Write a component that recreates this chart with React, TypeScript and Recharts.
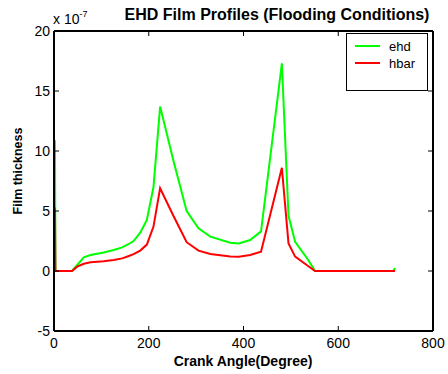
import { LineChart, Line, XAxis, YAxis } from "recharts";

// crank angle (deg) and film thickness (x 1e-7)
const angles = [2, 3, 38, 49, 63, 77, 105, 126, 144, 158, 168, 182, 196, 210, 224, 252, 280, 305, 330, 372, 390, 414, 437, 481, 495, 509, 537, 551, 716, 720];
const ehd = [10.9, 0, 0, 0.5, 1.14, 1.33, 1.55, 1.75, 1.97, 2.25, 2.5, 3.2, 4.25, 7.0, 13.7, 9.2, 5.0, 3.55, 2.86, 2.36, 2.3, 2.58, 3.3, 17.3, 4.6, 2.44, 0.9, 0, 0, 0.25];
const hbar = [5.3, 0, 0, 0.36, 0.6, 0.72, 0.82, 0.92, 1.05, 1.25, 1.4, 1.7, 2.2, 3.7, 6.9, 4.6, 2.4, 1.7, 1.42, 1.2, 1.18, 1.33, 1.6, 8.6, 2.3, 1.2, 0.4, 0, 0, 0];

const xTicks = [0, 200, 400, 600, 800];
const yTicks = [-5, 0, 5, 10, 15, 20];

const series = [
  { key: "ehd", name: "ehd", color: "#00ff00" },
  { key: "hbar", name: "hbar", color: "#ff0000" },
];

const data = angles.map((a, i) => ({ angle: a, ehd: ehd[i], hbar: hbar[i] }));

const W = 448;
const H = 374;
const margin = { top: 31, right: 15, bottom: 13, left: 14 };
const X_AXIS_H = 30;
const Y_AXIS_W = 40;
const PLOT_W = W - margin.left - Y_AXIS_W - margin.right;
const PLOT_H = H - margin.top - margin.bottom - X_AXIS_H;
const TICK = 5;

const font = '"Liberation Sans", Arial, Helvetica, sans-serif';
const frame = { stroke: "#000", strokeWidth: 2 };

// label plus inward ticks on both sides of the box (matlab style)
function XTick(props: any) {
  const { x, y, payload } = props;
  const base = y - 7; // tickSize 4 + tickMargin 3
  return (
    <g>
      <line x1={x} x2={x} y1={base} y2={base - TICK} stroke="#000" />
      <line x1={x} x2={x} y1={base - PLOT_H} y2={base - PLOT_H + TICK} stroke="#000" />
      <text x={x} y={y} dy="0.71em" textAnchor="middle" fontSize={14} fontFamily={font} fill="#000">
        {payload.value}
      </text>
    </g>
  );
}

function YTick(props: any) {
  const { x, y, payload } = props;
  const base = x + 4; // tickSize 2 + tickMargin 2
  return (
    <g>
      <line x1={base} x2={base + TICK} y1={y} y2={y} stroke="#000" />
      <line x1={base + PLOT_W} x2={base + PLOT_W - TICK} y1={y} y2={y} stroke="#000" />
      <text x={x} y={y} dy="0.355em" textAnchor="end" fontSize={14} fontFamily={font} fill="#000">
        {payload.value}
      </text>
    </g>
  );
}

export default function App() {
  return (
    <div style={{ position: "absolute", left: 0, top: 0, width: W, height: H, background: "#fff" }}>
      <LineChart width={W} height={H} data={data} margin={margin}>
        <XAxis
          dataKey="angle"
          type="number"
          domain={[0, 800]}
          ticks={xTicks}
          interval={0}
          tickLine={false}
          tickSize={4}
          tickMargin={3}
          axisLine={frame}
          tick={<XTick />}
          height={X_AXIS_H}
        />
        <YAxis
          type="number"
          domain={[-5, 20]}
          ticks={yTicks}
          interval={0}
          tickLine={false}
          tickSize={2}
          tickMargin={2}
          axisLine={frame}
          tick={<YTick />}
          width={Y_AXIS_W}
        />
        <XAxis xAxisId="top" orientation="top" mirror type="number" domain={[0, 800]} tick={false} tickLine={false} axisLine={frame} />
        <YAxis yAxisId="right" orientation="right" mirror type="number" domain={[-5, 20]} tick={false} tickLine={false} axisLine={frame} />
        {series.map((s) => (
          <Line
            key={s.key}
            type="linear"
            dataKey={s.key}
            name={s.name}
            stroke={s.color}
            strokeWidth={2}
            dot={false}
            isAnimationActive={false}
          />
        ))}
      </LineChart>
      <svg width={W} height={H} style={{ position: "absolute", left: 0, top: 0, pointerEvents: "none" }} fontFamily={font}>
        <text x={277} y={20} textAnchor="middle" fontSize={16} fontWeight="bold">
          EHD Film Profiles (Flooding Conditions)
        </text>
        <text x={53} y={24} fontSize={14}>
          x 10<tspan dy={-7} fontSize={9}>-7</tspan>
        </text>
        <text x={243} y={366} textAnchor="middle" fontSize={14} fontWeight="bold">
          Crank Angle(Degree)
        </text>
        <text x={21.5} y={171} textAnchor="middle" fontSize={12.5} fontWeight="bold" transform="rotate(-90 21.5 171)">
          Film thickness
        </text>
        <rect x={346.5} y={33.5} width={81} height={57} fill="#fff" stroke="#000" strokeWidth={1} />
        {series.map((s, i) => (
          <g key={s.key}>
            <line x1={355} x2={380} y1={46 + i * 17} y2={46 + i * 17} stroke={s.color} strokeWidth={2} />
            <text x={389} y={51 + i * 17} fontSize={13}>
              {s.name}
            </text>
          </g>
        ))}
      </svg>
    </div>
  );
}
